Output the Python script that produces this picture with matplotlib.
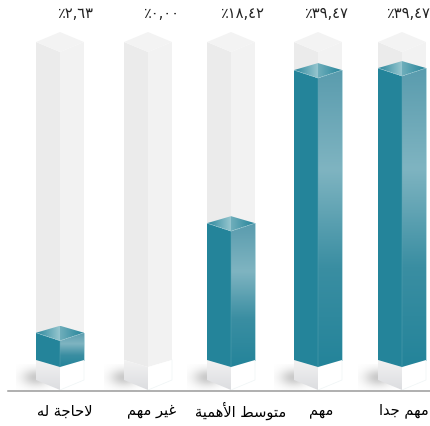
import numpy as np
import matplotlib
matplotlib.use("Agg")
import matplotlib.pyplot as plt
from matplotlib.colors import LinearSegmentedColormap
from matplotlib.patches import Polygon

categories = ["لاحاجة له", "غير مهم", "متوسط الأهمية", "مهم", "مهم جدا"]
values = [2.63, 0.00, 18.42, 39.47, 39.47]

# Layout, in horizontal axis units and pixels
bar_centres = [60, 148, 231, 318, 402]
value_label_x = [75, 161, 242, 326, 408]
category_label_x = [65, 152, 241, 321, 404]
top_nudge_px = [7, 0, 1, 0, 2]
HALF_W = 24
ZERO_PX = 367.0
PX_PER_UNIT = 7.32
FIG_W, FIG_H = 430, 426

TEAL = "#24849a"


def val(py):
    """Value on the y axis that sits at pixel row py."""
    return (ZERO_PX - py) / PX_PER_UNIT


# Contextual glyph forms: isolated, final, initial, medial
FORMS = {
    "ا": (0xFE8D, 0xFE8E), "أ": (0xFE83, 0xFE84), "د": (0xFEA9, 0xFEAA),
    "ر": (0xFEAD, 0xFEAE), "و": (0xFEED, 0xFEEE), "ة": (0xFE93, 0xFE94),
    "ح": (0xFEA1, 0xFEA2, 0xFEA3, 0xFEA4), "ج": (0xFE9D, 0xFE9E, 0xFE9F, 0xFEA0),
    "ه": (0xFEE9, 0xFEEA, 0xFEEB, 0xFEEC), "ل": (0xFEDD, 0xFEDE, 0xFEDF, 0xFEE0),
    "غ": (0xFECD, 0xFECE, 0xFECF, 0xFED0), "ي": (0xFEF1, 0xFEF2, 0xFEF3, 0xFEF4),
    "م": (0xFEE1, 0xFEE2, 0xFEE3, 0xFEE4), "ت": (0xFE95, 0xFE96, 0xFE97, 0xFE98),
    "س": (0xFEB1, 0xFEB2, 0xFEB3, 0xFEB4), "ط": (0xFEC1, 0xFEC2, 0xFEC3, 0xFEC4),
}
LAM_ALEF = {"ا": (0xFEFB, 0xFEFC), "أ": (0xFEF7, 0xFEF8)}


def shape_arabic(text):
    """Join Arabic letters and lay them out for left-to-right drawing."""
    out = []
    i = 0
    prev_joins = False
    while i < len(text):
        ch = text[i]
        if ch not in FORMS:
            out.append(ch)
            prev_joins = False
            i += 1
            continue
        nxt = text[i + 1] if i + 1 < len(text) else ""
        if ch == "ل" and nxt in LAM_ALEF:
            out.append(chr(LAM_ALEF[nxt][1 if prev_joins else 0]))
            prev_joins = False
            i += 2
            continue
        forms = FORMS[ch]
        joins_next = len(forms) == 4 and nxt in FORMS
        if prev_joins:
            code = forms[3] if joins_next else forms[1]
        else:
            code = forms[2] if joins_next else forms[0]
        out.append(chr(code))
        prev_joins = joins_next
        i += 1
    return "".join(reversed(out))


def arabic_percent(v):
    digits = f"{v:.2f}".replace(".", ",")
    return "٪" + digits.translate(str.maketrans("0123456789", "٠١٢٣٤٥٦٧٨٩"))


def gradient_face(ax, pts, stops, horizontal=False, z=3):
    """Fill a polygon with a colour ramp clipped to its outline."""
    pts = np.array(pts)
    cmap = LinearSegmentedColormap.from_list("face", stops)
    ramp = np.linspace(0, 1, 128)
    ramp = ramp[None, :] if horizontal else ramp[:, None]
    im = ax.imshow(ramp, cmap=cmap, vmin=0, vmax=1, aspect="auto", origin="upper",
                   interpolation="bilinear", zorder=z,
                   extent=(pts[:, 0].min(), pts[:, 0].max(), pts[:, 1].min(), pts[:, 1].max()))
    im.set_clip_path(Polygon(pts, closed=True, transform=ax.transData))


def flat_face(ax, pts, colour, z=2):
    ax.add_patch(Polygon(pts, closed=True, facecolor=colour, edgecolor="none", zorder=z))


fig = plt.figure(figsize=(FIG_W / 100, FIG_H / 100), dpi=100)
ax = fig.add_axes([0, 0, 1, 1])
ax.set_axis_off()

# Soft ground shadows behind each column
xx, yy = np.meshgrid(np.linspace(-1, 1, 80), np.linspace(-1, 1, 60))
glow = np.zeros((60, 80, 4))
glow[..., :3] = 0.5
glow[..., 3] = 0.42 * np.exp(-(xx ** 2 / 0.45 + yy ** 2 / 0.40))

for cx, v, lx, cat_x, nudge, cat in zip(bar_centres, values, value_label_x,
                                        category_label_x, top_nudge_px, categories):
    l, r = cx - HALF_W, cx + HALF_W

    ax.imshow(glow, extent=(l - 20, l + 20, val(391), val(364)), aspect="auto",
              interpolation="bilinear", zorder=1)

    # Empty glass track
    flat_face(ax, [(l, val(42)), (cx, val(52)), (cx, val(367)), (l, val(360))], "#ebebeb")
    flat_face(ax, [(r, val(42)), (cx, val(52)), (cx, val(367)), (r, val(360))], "#f2f2f2")
    flat_face(ax, [(l, val(42)), (cx, val(32)), (r, val(42)), (cx, val(52))], "#f3f3f3")

    # Pale plinth below the zero line
    gradient_face(ax, [(l, val(360)), (cx, val(367)), (cx, val(390)), (l, val(380))],
                  ["#f2f2f2", "#dcdde0"], z=2)
    flat_face(ax, [(r, val(360)), (cx, val(367)), (cx, val(390)), (r, val(380))], "#ffffff")
    ax.plot([r, r, cx], [val(360), val(380), val(390)], color="#eef4f5", lw=0.5, zorder=3)

    if v > 0:
        # Filled prism: the front ridge stands at the value, side corners 8 px above it
        top = v + nudge / PX_PER_UNIT
        rise = 8 / PX_PER_UNIT
        apex = 15 / PX_PER_UNIT
        base_c, base_s = val(367), val(360)
        flat_face(ax, [(l, top + rise), (cx, top), (cx, base_c), (l, base_s)], TEAL, z=3)
        gradient_face(ax, [(r, top + rise), (cx, top), (cx, base_c), (r, base_s)],
                      ["#5a9cae", "#7fb4c1", "#3a8ea2", TEAL], z=3)
        gradient_face(ax, [(l, top + rise), (cx, top + apex), (cx, top)],
                      ["#2a879c", "#97c6cf"], horizontal=True, z=4)
        gradient_face(ax, [(r, top + rise), (cx, top + apex), (cx, top)],
                      ["#6faebb", TEAL], horizontal=True, z=4)
        ax.plot([l, cx, r], [top + rise, top, top + rise], color="#a9d2da", lw=0.4,
                ls=(0, (3, 1)), zorder=5)
        ax.plot([r, r], [top + rise, base_s], color="#a9d2da", lw=0.6, zorder=5)
        ax.plot([cx, cx], [top, base_c], color="#5ea6b6", lw=0.3, zorder=5)

    ax.text(lx, val(13), arabic_percent(v), ha="center", va="center", fontsize=10.5,
            family="DejaVu Sans", color="#222222")
    ax.text(cat_x, val(411), shape_arabic(cat), ha="center", va="center", fontsize=10.5,
            family="DejaVu Sans", color="#000000")

# Ground line
ax.plot([8, FIG_W], [val(391), val(391)], color="#9a9a9a", lw=1.1, zorder=6)

ax.set_xlim(0, FIG_W)
ax.set_ylim(val(FIG_H), val(0))
fig.savefig("out.png", dpi=100, facecolor="white")
